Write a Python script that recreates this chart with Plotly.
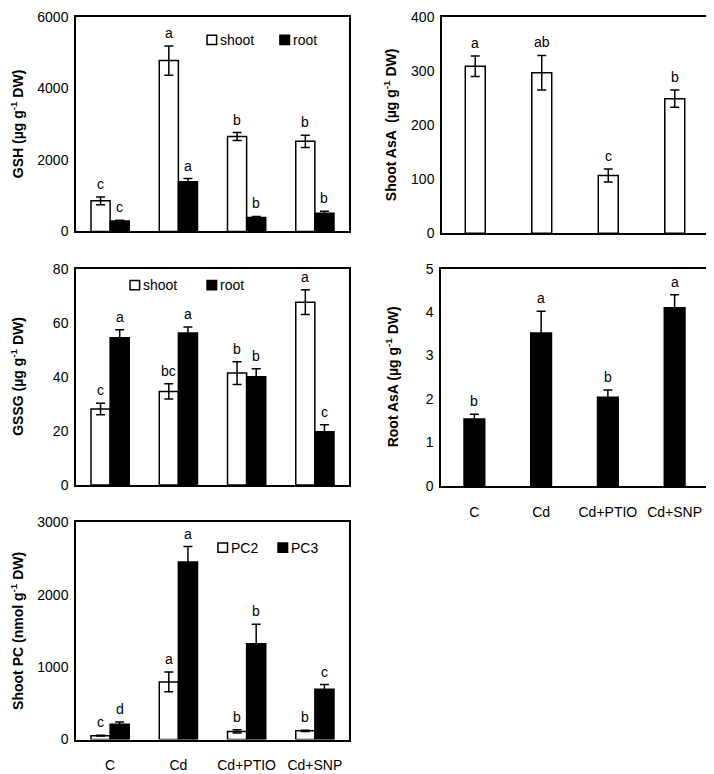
import plotly.graph_objects as go

categories = ["C", "Cd", "Cd+PTIO", "Cd+SNP"]

# Panel 1: GSH
gsh_shoot = [855, 4780, 2655, 2520]
gsh_shoot_err = [110, 410, 110, 170]
gsh_shoot_letters = ["c", "a", "b", "b"]
gsh_root = [292, 1390, 390, 510]
gsh_root_err = [20, 90, 27, 55]
gsh_root_letters = ["c", "a", "b", "b"]

# Panel 2: Shoot AsA
shoot_asa = [309, 297, 107, 249]
shoot_asa_err = [19, 32, 12, 16]
shoot_asa_letters = ["a", "ab", "c", "b"]

# Panel 3: GSSG
gssg_shoot = [28.1, 34.6, 41.4, 67.6]
gssg_shoot_err = [2.1, 2.8, 4.2, 4.6]
gssg_shoot_letters = ["c", "bc", "b", "a"]
gssg_root = [54.4, 56.2, 40.0, 19.7]
gssg_root_err = [3.0, 2.2, 3.0, 2.6]
gssg_root_letters = ["a", "a", "b", "c"]

# Panel 4: Root AsA
root_asa = [1.54, 3.52, 2.04, 4.10]
root_asa_err = [0.11, 0.50, 0.17, 0.30]
root_asa_letters = ["b", "a", "b", "a"]

# Panel 5: Shoot PC
pc2 = [54, 796, 112, 121]
pc2_err = [6, 135, 22, 9]
pc2_letters = ["c", "a", "b", "b"]
pc3 = [211, 2452, 1323, 693]
pc3_err = [32, 211, 270, 67]
pc3_letters = ["d", "a", "b", "c"]

# The page body has an 8px margin, so the figure is placed 8px right/down.
OFF = 8
W, H = 706, 766
FONT = "Liberation Sans, Arial, sans-serif"
TICK_SIZE = 14
LETTER_SIZE = 14
TITLE_SIZE = 14
LEGEND_SIZE = 14


def px_dom_x(a, b):
    return [(a - OFF) / W, (b - OFF) / W]


def px_dom_y(top, bottom):
    return [1 - (bottom - OFF) / H, 1 - (top - OFF) / H]


panels = {
    1: dict(x=px_dom_x(76, 349), y=px_dom_y(9, 228), rng=[0, 6000], dtick=2000,
            title="GSH (µg g<sup>-1</sup> DW)", tx=17, showx=False),
    2: dict(x=px_dom_x(442, 708), y=px_dom_y(9, 230), rng=[0, 400], dtick=100,
            title="Shoot AsA  (µg g<sup>-1</sup> DW)", tx=390, showx=False),
    3: dict(x=px_dom_x(76, 349), y=px_dom_y(266, 487), rng=[0, 80], dtick=20,
            title="GSSG (µg g<sup>-1</sup> DW)", tx=17, showx=False),
    4: dict(x=px_dom_x(441, 708), y=px_dom_y(266, 488), rng=[0, 5], dtick=1,
            title="Root AsA (µg g<sup>-1</sup> DW)", tx=392, showx=True),
    5: dict(x=px_dom_x(76, 349), y=px_dom_y(525, 747), rng=[0, 3000], dtick=1000,
            title="Shoot PC (nmol g<sup>-1</sup> DW)", tx=17, showx=True),
}

fig = go.Figure()
annotations = []
shapes = []


def add_bar(panel, name, vals, errs, color, letters, offset):
    sfx = "" if panel == 1 else str(panel)
    fig.add_trace(go.Bar(
        x=categories, y=vals, name=name,
        marker=dict(color=color, line=dict(color="black", width=1.5)),
        error_y=dict(type="data", array=errs, visible=True, color="black",
                     thickness=1.5, width=4.5),
        xaxis="x" + sfx, yaxis="y" + sfx, showlegend=False,
    ))
    for i, (v, e, l) in enumerate(zip(vals, errs, letters)):
        annotations.append(dict(
            x=i + offset, y=v + e, xref="x" + sfx, yref="y" + sfx,
            text=l, showarrow=False, yanchor="bottom", yshift=3,
            font=dict(family=FONT, size=LETTER_SIZE, color="black"),
        ))


def add_legend(panel, items, yc):
    sfx = "" if panel == 1 else str(panel)
    hx = 0.0175
    hy = 4.7 / ((panels[panel]["y"][1] - panels[panel]["y"][0]) * H)
    for (label, color, x0) in items:
        shapes.append(dict(
            type="rect", xref="x" + sfx + " domain", yref="y" + sfx + " domain",
            x0=x0, x1=x0 + 2 * hx, y0=yc - hy, y1=yc + hy,
            fillcolor=color, line=dict(color="black", width=1.5),
        ))
        annotations.append(dict(
            x=x0 + 2 * hx + 0.004, y=yc, xref="x" + sfx + " domain", yref="y" + sfx + " domain",
            text=label, showarrow=False, xanchor="left", yanchor="middle",
            font=dict(family=FONT, size=LEGEND_SIZE, color="black"),
        ))


off = 0.14
add_bar(1, "shoot", gsh_shoot, gsh_shoot_err, "white", gsh_shoot_letters, -off)
add_bar(1, "root", gsh_root, gsh_root_err, "black", gsh_root_letters, off)
add_bar(2, "shoot", shoot_asa, shoot_asa_err, "white", shoot_asa_letters, 0)
add_bar(3, "shoot", gssg_shoot, gssg_shoot_err, "white", gssg_shoot_letters, -off)
add_bar(3, "root", gssg_root, gssg_root_err, "black", gssg_root_letters, off)
add_bar(4, "root", root_asa, root_asa_err, "black", root_asa_letters, 0)
add_bar(5, "PC2", pc2, pc2_err, "white", pc2_letters, -off)
add_bar(5, "PC3", pc3, pc3_err, "black", pc3_letters, off)

add_legend(1, [("shoot", "white", 0.48), ("root", "black", 0.747)], 0.893)
add_legend(3, [("shoot", "white", 0.198), ("root", "black", 0.48)], 0.924)
add_legend(5, [("PC2", "white", 0.52), ("PC3", "black", 0.74)], 0.883)

layout = dict(
    width=W, height=H, margin=dict(l=0, r=0, t=0, b=0),
    paper_bgcolor="white", plot_bgcolor="white",
    barmode="group", bargap=0.44, bargroupgap=0,
    font=dict(family=FONT, size=TICK_SIZE, color="black"),
    showlegend=False,
)

for p, cfg in panels.items():
    sfx = "" if p == 1 else str(p)
    layout["xaxis" + sfx] = dict(
        domain=cfg["x"], anchor="y" + sfx, type="category", range=[-0.5, 3.5],
        showline=True, mirror=True, linecolor="black", linewidth=1.5,
        ticks="", showgrid=False, zeroline=False, showticklabels=cfg["showx"],
        tickfont=dict(family=FONT, size=TICK_SIZE, color="black"),
        ticklabelstandoff=12,
        fixedrange=True,
    )
    layout["yaxis" + sfx] = dict(
        domain=cfg["y"], anchor="x" + sfx, range=cfg["rng"], dtick=cfg["dtick"],
        showline=True, mirror=True, linecolor="black", linewidth=1.5,
        ticks="", showgrid=False, zeroline=False,
        tickfont=dict(family=FONT, size=TICK_SIZE, color="black"),
        ticklabelstandoff=3,
        fixedrange=True,
    )
    annotations.append(dict(
        x=(cfg["tx"] - OFF) / W, y=0.5, xref="paper", yref="y" + sfx + " domain",
        text="<b>" + cfg["title"] + "</b>", textangle=-90, showarrow=False,
        xanchor="center", yanchor="middle",
        font=dict(family=FONT, size=TITLE_SIZE, color="black"),
    ))

layout["annotations"] = annotations
layout["shapes"] = shapes
fig.update_layout(**layout)

# Panels with a single series: narrower bars
fig.data[2].update(width=0.3)
fig.data[5].update(width=0.31)

fig.write_html("out.html")
